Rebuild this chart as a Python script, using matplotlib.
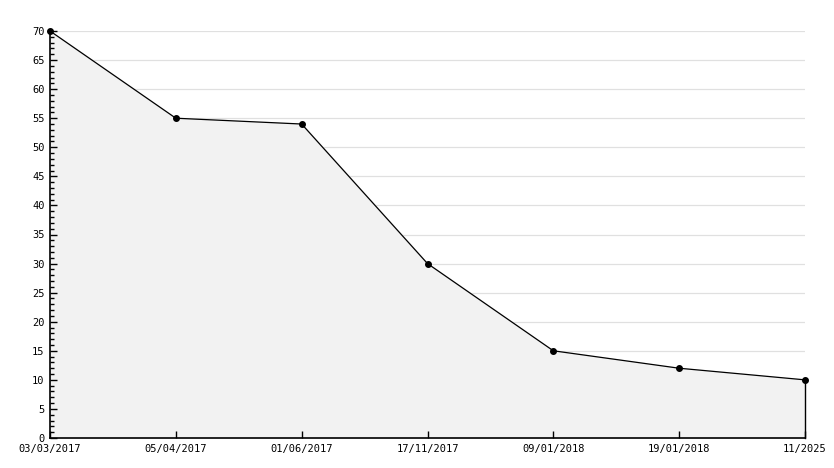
import matplotlib
matplotlib.use("Agg")
import matplotlib.pyplot as plt
from matplotlib.ticker import MultipleLocator

categories = ["03/03/2017", "05/04/2017", "01/06/2017", "17/11/2017",
              "09/01/2018", "19/01/2018", "11/2025"]
values = [70, 55, 54, 30, 15, 12, 10]

fig = plt.figure(figsize=(8.34, 4.68), dpi=100)
ax = fig.add_axes([50/834, 1-438/468, 755/834, (438-31)/468])
x = list(range(len(categories)))
ax.fill_between(x, values, 0, color="#f2f2f2", zorder=1)
ax.plot(x, values, color="black", lw=0.9, marker="o", ms=4, zorder=3, clip_on=False)
ax.plot([x[-1], x[-1]], [0, values[-1]], color="black", lw=1.0, zorder=3, clip_on=False)
ax.set_xlim(0, len(categories)-1)
ax.set_ylim(0, 70)
ax.yaxis.set_major_locator(MultipleLocator(5))
ax.yaxis.set_minor_locator(MultipleLocator(1))
for y in range(5, 75, 5):
    ax.axhline(y, color="#e0e0e0", lw=0.9, zorder=0.5)
ax.set_xticks(x)
ax.set_xticklabels(categories)
for s in ["top", "right"]:
    ax.spines[s].set_visible(False)
for s in ["left", "bottom"]:
    ax.spines[s].set_linewidth(1.2)
ax.tick_params(axis="y", which="major", direction="in", length=5, width=1, labelsize=7.5, pad=4)
ax.tick_params(axis="y", which="minor", direction="in", length=3, width=1)
ax.tick_params(axis="x", direction="in", length=5, width=1, labelsize=7.5, pad=4)
for lbl in ax.get_xticklabels() + ax.get_yticklabels():
    lbl.set_family("DejaVu Sans Mono")
ax.set_facecolor("white")
fig.savefig("out.png", dpi=100)
